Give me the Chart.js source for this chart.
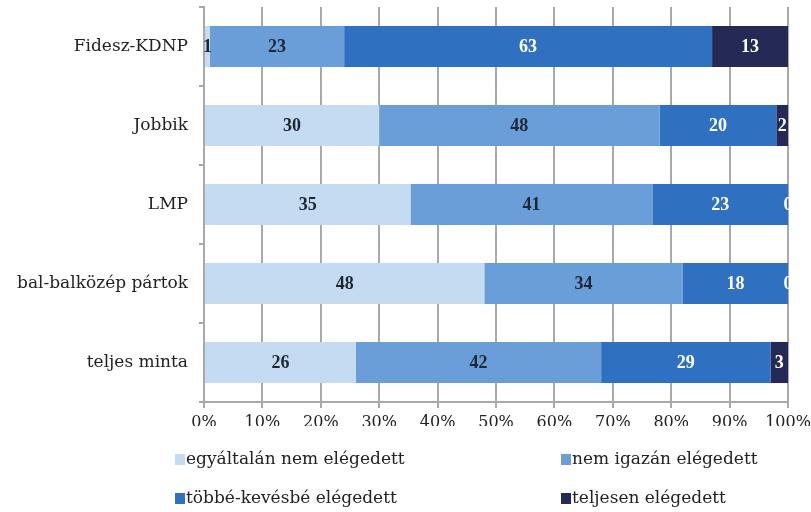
<!DOCTYPE html>
<html>
<head>
<meta charset="utf-8">
<script src="https://cdn.jsdelivr.net/npm/chart.js@4/dist/chart.umd.min.js"></script>
<style>
  html, body { margin: 0; padding: 0; background: #fff; }
  #wrap { position: relative; width: 811px; height: 512px; }
  #chart { position: absolute; left: 0; top: 0; }
  .leg { position: absolute; font-family: "DejaVu Serif", "Liberation Serif", serif; font-size: 17px; color: #222; white-space: nowrap; line-height: 20px; }
  .leg span { display: inline-block; width: 10px; height: 11px; margin-right: 1px; vertical-align: -1px; }
</style>
</head>
<body>
<div id="wrap">
  <canvas id="chart" width="811" height="512"></canvas>
</div>
<script>
const categories = ['Fidesz-KDNP', 'Jobbik', 'LMP', 'bal-balközép pártok', 'teljes minta'];
const seriesNames = ['egyáltalán nem elégedett', 'nem igazán elégedett', 'többé-kevésbé elégedett', 'teljesen elégedett'];
const notAtAll = [1, 30, 35, 48, 26];
const notReally = [23, 48, 41, 34, 42];
const moreOrLess = [63, 20, 23, 18, 29];
const fully = [13, 2, 0, 0, 3];
const tickLabels = ['0%', '10%', '20%', '30%', '40%', '50%', '60%', '70%', '80%', '90%', '100%'];

const colors = ['#c4dbf2', '#6a9ed8', '#2f70c0', '#242a55'];
const labelColors = ['#1f2633', '#1f2633', '#ffffff', '#ffffff'];
const allSeries = [notAtAll, notReally, moreOrLess, fully];

// 100% stacked: each row normalised to its own total
const totals = categories.map((c, i) => allSeries.reduce((s, arr) => s + arr[i], 0));

const serif = '"DejaVu Serif", "Liberation Serif", serif';

const barLabels = {
    id: 'barLabels',
    afterDatasetsDraw(chart) {
        const ctx = chart.ctx;
        ctx.save();
        ctx.font = 'bold 18px "Liberation Serif", serif';
        ctx.textAlign = 'center';
        ctx.textBaseline = 'middle';
        chart.data.datasets.forEach((ds, di) => {
            const meta = chart.getDatasetMeta(di);
            meta.data.forEach((bar, i) => {
                const x = (bar.x + bar.base) / 2;
                ctx.fillStyle = labelColors[di];
                ctx.fillText(String(allSeries[di][i]), x, bar.y + 1);
            });
        });
        ctx.restore();
    }
};

const ctx = document.getElementById('chart').getContext('2d');

let chart = new Chart(ctx, {
    type: 'bar',
    data: {
        labels: categories,
        datasets: allSeries.map((arr, di) => ({
            label: seriesNames[di],
            data: arr.map((v, i) => v / totals[i] * 100),
            backgroundColor: colors[di],
            borderWidth: 0,
            barPercentage: 0.52,
            categoryPercentage: 1
        }))
    },
    options: {
        indexAxis: 'y',
        responsive: false,
        animation: false,
        layout: { padding: { left: 0, right: 23, top: 7, bottom: 86 } },
        plugins: {
            legend: { display: false },
            tooltip: { enabled: false }
        },
        scales: {
            x: {
                stacked: true,
                min: 0,
                max: 100,
                afterBuildTicks(axis) {
                    axis.ticks = tickLabels.map((t, i) => ({ value: i * 10 }));
                },
                afterFit(axis) {
                    axis.height = 24;
                    axis.paddingLeft = 0;
                    axis.paddingRight = 0;
                },
                ticks: {
                    callback: (v, i) => tickLabels[i],
                    font: { family: serif, size: 16 },
                    color: '#222',
                    padding: 5,
                    maxRotation: 0
                },
                grid: { color: '#a9a9a9', lineWidth: 2, tickLength: 6 },
                border: { color: '#a9a9a9', width: 2 }
            },
            y: {
                stacked: true,
                afterFit(axis) {
                    axis.width = 204;
                    axis.paddingTop = 0;
                    axis.paddingBottom = 0;
                },
                ticks: {
                    font: { family: serif, size: 17 },
                    color: '#222',
                    padding: 11
                },
                grid: { drawOnChartArea: false, color: '#a9a9a9', lineWidth: 2, tickLength: 5, offset: true },
                border: { color: '#a9a9a9', width: 2 }
            }
        }
    },
    plugins: [barLabels]
});

// legend in a 2x2 grid below the chart
const legPos = [[175, 448], [561, 448], [175, 487], [561, 487]];
const wrap = document.getElementById('wrap');
seriesNames.forEach((name, i) => {
    const d = document.createElement('div');
    d.className = 'leg';
    d.style.left = legPos[i][0] + 'px';
    d.style.top = legPos[i][1] + 'px';
    d.innerHTML = '<span style="background:' + colors[i] + '"></span>' + name;
    wrap.appendChild(d);
});
</script>
</body>
</html>
